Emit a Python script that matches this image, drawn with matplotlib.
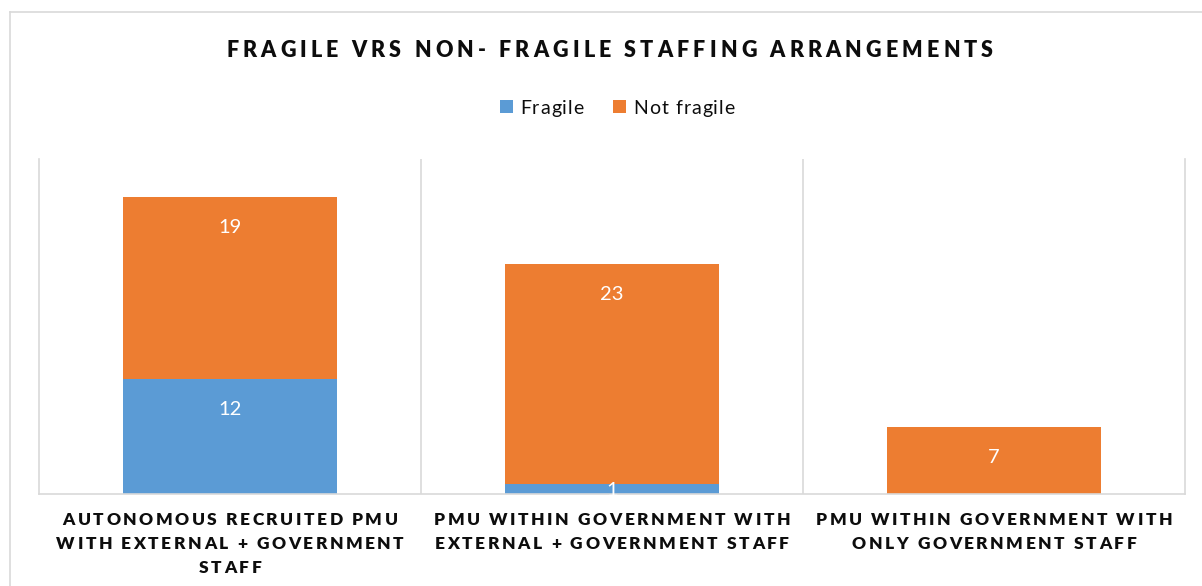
import matplotlib
matplotlib.use("Agg")
import matplotlib.pyplot as plt
from matplotlib import font_manager
from matplotlib.ft2font import FT2Font
from matplotlib.lines import Line2D
from matplotlib.patches import Rectangle

# ---------------- data ----------------
title = "FRAGILE VRS NON- FRAGILE STAFFING ARRANGEMENTS"
categories = [
    ["AUTONOMOUS RECRUITED PMU", "WITH EXTERNAL + GOVERNMENT", "STAFF"],
    ["PMU WITHIN GOVERNMENT WITH", "EXTERNAL + GOVERNMENT STAFF"],
    ["PMU WITHIN GOVERNMENT WITH", "ONLY GOVERNMENT STAFF"],
]
series_names = ["Fragile", "Not fragile"]
fragile = [12, 1, 0]
not_fragile = [19, 23, 7]

# ---------------- style ----------------
W, H, DPI = 1202, 586, 100
BLUE = "#5B9BD5"
ORANGE = "#ED7D31"
GRID = "#D9D9D9"
TEXT = "#0D0D0D"
FAMILY = "Lato"

fig = plt.figure(figsize=(W / DPI, H / DPI), dpi=DPI)
fig.patch.set_facecolor("white")


def char_advances(s, fp):
    font = FT2Font(font_manager.findfont(fp))
    font.set_size(fp.get_size_in_points(), DPI)
    return [font.load_char(ord(c)).linearHoriAdvance / 65536 for c in s]


def fit_spacing(s, fp, width):
    adv = char_advances(s, fp)
    return (width - sum(adv)) / (len(s) - 1)


def spaced_text(s, x, baseline, fp, spacing, color, ha="center"):
    adv = char_advances(s, fp)
    total = sum(adv) + spacing * (len(s) - 1)
    x0 = x - total / 2 if ha == "center" else x
    cur = x0
    for c, a in zip(s, adv):
        if c != " ":
            fig.text(cur / W, 1 - baseline / H, c, fontproperties=fp,
                     color=color, ha="left", va="baseline")
        cur += a + spacing
    return cur


# outer chart frame (partially cropped)
fig.add_artist(Line2D([10 / W, 10 / W], [0, 1 - 12 / H], transform=fig.transFigure,
                      color=GRID, lw=1.2))
fig.add_artist(Line2D([10 / W, 1], [1 - 12 / H, 1 - 12 / H], transform=fig.transFigure,
                      color=GRID, lw=1.2))

# ---------------- axes ----------------
ax = fig.add_axes([39 / W, 1 - 494 / H, (1185 - 39) / W, (494 - 159) / H])
x = list(range(len(categories)))
bw = 0.56
ax.bar(x, fragile, width=bw, color=BLUE, zorder=2)
ax.bar(x, not_fragile, bottom=fragile, width=bw, color=ORANGE, zorder=2)
ax.set_xlim(-0.5, len(categories) - 0.5)
ax.set_ylim(0, 35)
ax.set_xticks([])
ax.set_yticks([])
ax.spines["top"].set_visible(False)
for sp in ["left", "right", "bottom"]:
    ax.spines[sp].set_color(GRID)
    ax.spines[sp].set_linewidth(1.2)
for b in range(len(categories) - 1):
    ax.axvline(b + 0.5, color=GRID, lw=1.2, zorder=0)

# data labels
label_fp = font_manager.FontProperties(family=FAMILY, size=14.5)
for i in x:
    bottoms = [0, fragile[i]]
    vals = [fragile[i], not_fragile[i]]
    for b0, v in zip(bottoms, vals):
        if v <= 0:
            continue
        top = b0 + v
        y = max(top - 3.0, b0 + v / 2)
        ax.annotate(str(v), (i, y), xytext=(0, -5.0), textcoords="offset points",
                    ha="center", va="baseline", color="white",
                    fontproperties=label_fp, zorder=3)

# ---------------- title ----------------
title_fp = font_manager.FontProperties(family=FAMILY, weight="heavy", size=15.5)
tsp = fit_spacing(title, title_fp, 767)
spaced_text(title, 609.5, 56.7, title_fp, tsp, TEXT)

# ---------------- legend ----------------
leg_fp = font_manager.FontProperties(family=FAMILY, size=14)
lsp = fit_spacing(series_names[1], leg_fp, 102)
cur = 500
for name, col in zip(series_names, [BLUE, ORANGE]):
    fig.add_artist(Rectangle((cur / W, 1 - 113 / H), 13 / W, 12.5 / H,
                             transform=fig.transFigure, facecolor=col, edgecolor="none"))
    end = spaced_text(name, cur + 20, 114.3, leg_fp, lsp, TEXT, ha="left")
    cur = end + 28

# ---------------- category labels ----------------
cat_fp = font_manager.FontProperties(family=FAMILY, weight="heavy", size=12.5)
csp = fit_spacing("PMU WITHIN GOVERNMENT WITH", cat_fp, 356)
fig.canvas.draw()
for i, lines in enumerate(categories):
    cx = ax.transData.transform((i, 0))[0]
    for k, line in enumerate(lines):
        spaced_text(line, cx, 525 + 24 * k, cat_fp, csp, TEXT)

fig.savefig("out.png", dpi=DPI, facecolor="white")
